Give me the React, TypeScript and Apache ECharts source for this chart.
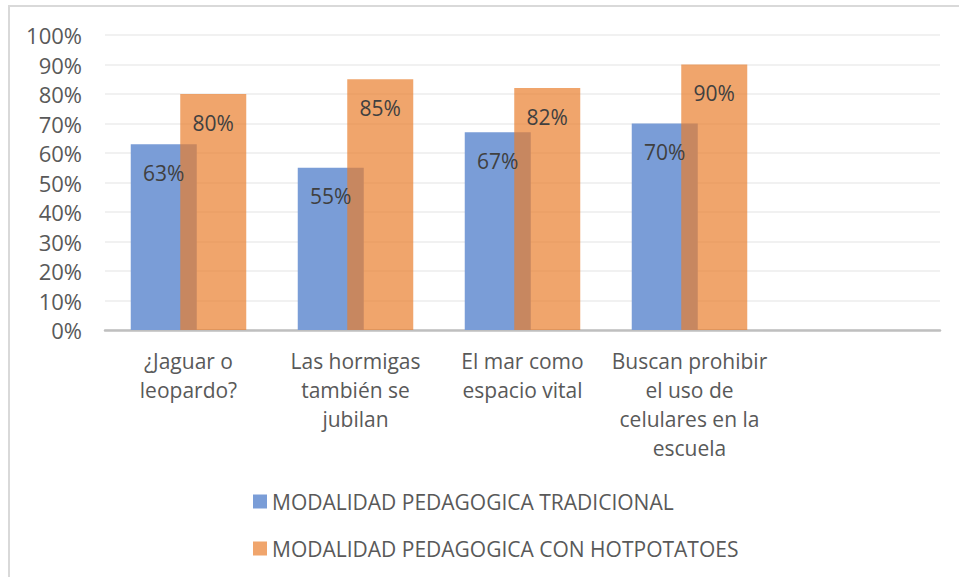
import React, { useEffect, useRef } from "react";
import * as echarts from "echarts";

const categories = [
  "¿Jaguar o\nleopardo?",
  "Las hormigas\ntambién se\njubilan",
  "El mar como\nespacio vital",
  "Buscan prohibir\nel uso de\ncelulares en la\nescuela",
  "",
];
const tradicional = [0.63, 0.55, 0.67, 0.7, null];
const hotpotatoes = [0.8, 0.85, 0.82, 0.9, null];
const seriesNames = [
  "MODALIDAD PEDAGOGICA TRADICIONAL",
  "MODALIDAD PEDAGOGICA CON HOTPOTATOES",
];

const FONT = "'Open Sans', sans-serif";

export default function App() {
  const ref = useRef<HTMLDivElement>(null);
  useEffect(() => {
    if (!ref.current) return;
    const chart = echarts.init(ref.current, null, { renderer: "svg" });
    const pct = (v: number) => Math.round(v * 100) + "%";
    const labelCfg = {
      show: true,
      position: "insideTop",
      distance: 18,
      color: "#404040",
      fontSize: 21,
      lineHeight: 21,
      fontFamily: FONT,
      formatter: (p: any) => pct(p.value),
    };
    chart.setOption({
      animation: false,
      backgroundColor: "#ffffff",
      textStyle: { fontFamily: FONT },
      graphic: [
        {
          type: "rect",
          shape: { x: 9, y: 6, width: 960, height: 580 },
          style: { fill: "none", stroke: "#d9d9d9", lineWidth: 2 },
          silent: true,
        },
      ],
      grid: { left: 105, right: 19, top: 35, bottom: 247, containLabel: false },
      legend: {
        orient: "vertical",
        left: 253,
        top: 491,
        padding: 0,
        itemGap: 26,
        itemWidth: 14,
        itemHeight: 14,
        icon: "rect",
        data: seriesNames,
        textStyle: {
          color: "#595959",
          fontSize: 21,
          lineHeight: 20,
          fontFamily: FONT,
        },
      },
      xAxis: {
        type: "category",
        data: categories,
        axisTick: { show: false },
        axisLine: { lineStyle: { color: "#bfbfbf", width: 2.5 } },
        axisLabel: {
          interval: 0,
          margin: 16,
          color: "#595959",
          fontSize: 21,
          lineHeight: 29,
          fontFamily: FONT,
          align: "center",
        },
      },
      yAxis: {
        type: "value",
        min: 0,
        max: 1,
        interval: 0.1,
        axisLine: { show: false },
        axisTick: { show: false },
        splitLine: { lineStyle: { color: "#ececec", width: 1.5 } },
        axisLabel: {
          margin: 23,
          color: "#595959",
          fontSize: 22,
          fontFamily: FONT,
          formatter: (v: number) => Math.round(v * 100) + "%",
        },
      },
      series: [
        {
          name: seriesNames[0],
          type: "bar",
          data: tradicional,
          barWidth: 66,
          barGap: "-25%",
          itemStyle: { color: "#7A9DD7" },
          label: labelCfg,
        },
        {
          name: seriesNames[1],
          type: "bar",
          data: hotpotatoes,
          barWidth: 66,
          barGap: "-25%",
          itemStyle: { color: "rgba(233,125,42,0.69)" },
          label: labelCfg,
        },
      ],
    });
    return () => chart.dispose();
  }, []);
  return (
    <div
      ref={ref}
      style={{ position: "absolute", left: 0, top: 0, width: 959, height: 577 }}
    />
  );
}
